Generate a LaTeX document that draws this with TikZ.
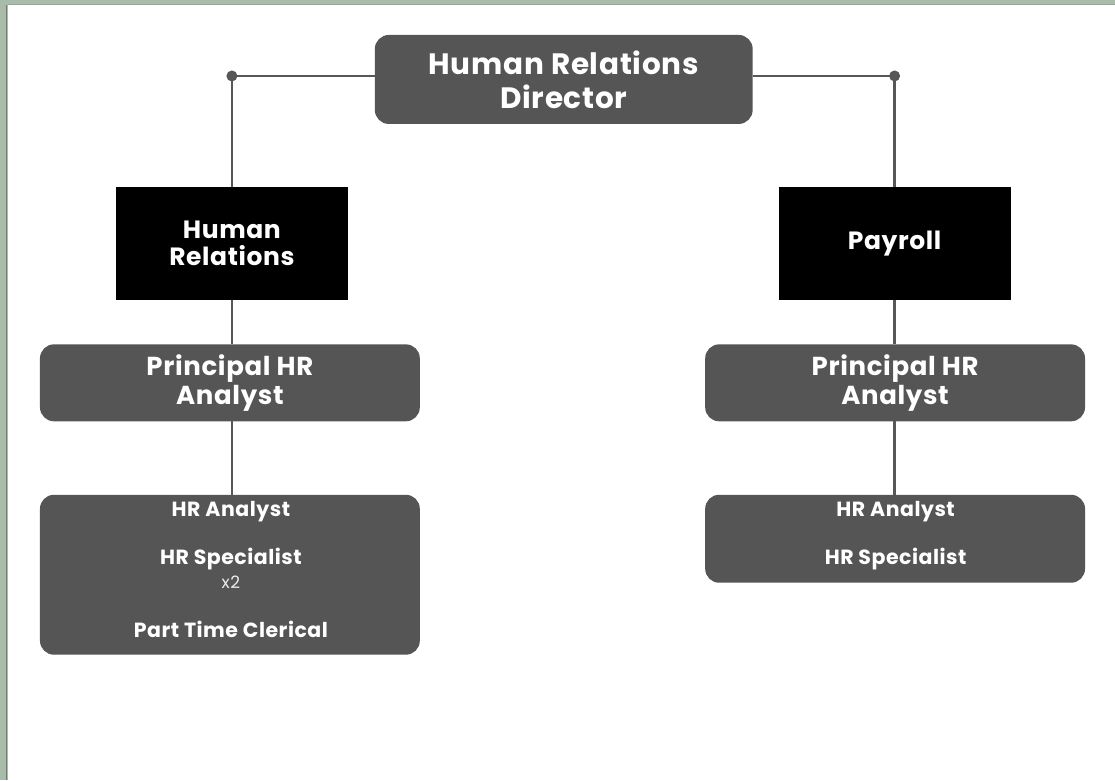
\documentclass[tikz,border=0pt]{standalone}
\usepackage{fontspec}
\setmainfont{Poppins}
\newfontfamily\widefont[LetterSpace=2.5]{Poppins}
\definecolor{boxgray}{HTML}{555555}
\definecolor{linegray}{HTML}{575757}
\definecolor{framegreen}{HTML}{A9BBA9}
\definecolor{frameline}{HTML}{6E7E6E}
\begin{document}
\begin{tikzpicture}[x=1pt,y=-1pt,
  graybox/.style={fill=boxgray, rounded corners=14pt, inner sep=0pt, outer sep=0pt, text=white, align=center},
  blackbox/.style={fill=black, inner sep=0pt, outer sep=0pt, text=white, align=center},
  conn/.style={draw=linegray, line width=2.6pt},
  dot/.style={circle, fill=linegray, inner sep=0pt, minimum size=11pt},
  lbl/.style={text=white, font=\widefont\bfseries\fontsize{20.5}{24}\selectfont, inner sep=0pt}
]
% frame
\fill[framegreen] (0,0) rectangle (1115,780);
\fill[white] (8,5) rectangle (1115,780);
\draw[frameline, line width=1.2pt] (6.5,5) -- (6.5,780);
\draw[frameline!70, line width=1pt] (8,4.5) -- (1115,4.5);
\useasboundingbox (0,0) rectangle (1115,780);

% nodes
\node[graybox, minimum width=378pt, minimum height=89pt, font=\widefont\bfseries\fontsize{29.5}{34}\selectfont] (dir) at (564,79.5) {Human Relations\\Director};
\node[blackbox, minimum width=232pt, minimum height=113pt, font=\widefont\bfseries\fontsize{25}{27}\selectfont] (hr) at (232,243.5) {Human\\Relations};
\node[blackbox, minimum width=232pt, minimum height=113pt, font=\widefont\bfseries\fontsize{25}{27}\selectfont] (pay) at (895,243.5) {Payroll};
\node[graybox, minimum width=380pt, minimum height=77pt, font=\widefont\bfseries\fontsize{26}{29}\selectfont] (pl) at (230,383) {Principal HR\\Analyst};
\node[graybox, minimum width=380pt, minimum height=77pt, font=\widefont\bfseries\fontsize{26}{29}\selectfont] (pr) at (895.5,383) {Principal HR\\Analyst};
\node[graybox, minimum width=380pt, minimum height=160pt] (bl) at (230,575) {};
\node[graybox, minimum width=380pt, minimum height=88pt] (br) at (895.5,539) {};

% labels inside the lower boxes
\node[lbl] (bl1) at (231,512) {HR Analyst};
\node[lbl] (bl2) at (231,559) {HR Specialist};
\node[text=white!85!gray, font=\widefont\fontsize{17}{19}\selectfont, inner sep=0pt] (bl3) at (231,583) {x2};
\node[lbl] (bl4) at (231,630) {Part Time Clerical};
\node[lbl] (br1) at (896,512) {HR Analyst};
\node[lbl] (br2) at (896,559) {HR Specialist};

% connectors
\node[dot] (dl) at (232,76) {};
\node[dot] (dr) at (895,76) {};
\coordinate (dirl) at (dir.west |- dl);
\coordinate (dirr) at (dir.east |- dr);
\draw[conn] (dirl) -- (dl.center) -- (hr.north);
\draw[conn] (dirr) -- (dr.center) -- (pay.north);
\draw[conn] (hr.south) -- (hr.south |- pl.north);
\draw[conn] (pay.south) -- (pay.south |- pr.north);
\draw[conn] (hr.south |- pl.south) -- (hr.south |- bl.north);
\draw[conn] (pay.south |- pr.south) -- (pay.south |- br.north);
\end{tikzpicture}
\end{document}
